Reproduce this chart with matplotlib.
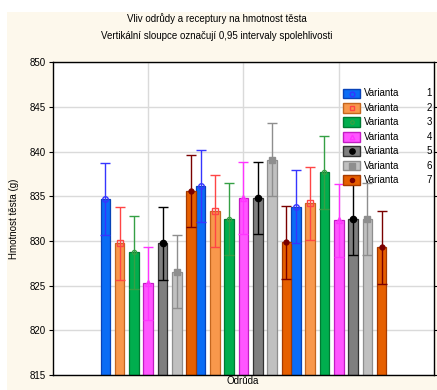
import matplotlib
matplotlib.use("Agg")
import matplotlib.pyplot as plt
from matplotlib.patches import Rectangle
from matplotlib.lines import Line2D
import numpy as np

plt.rcParams['font.family'] = ['Liberation Sans', 'DejaVu Sans']

# Odrůdy (categories on x) and recipe variants (series)
odrudy = [1, 2, 3]
varianty = ["1", "2", "3", "4", "5", "6", "7"]

# Mean dough weight (g) per variant, one value per odrůda
v1 = [834.7, 836.15, 833.85]
v2 = [829.75, 833.35, 834.2]
v3 = [828.75, 832.45, 837.7]
v4 = [825.25, 834.8, 832.3]
v5 = [829.75, 834.8, 832.45]
v6 = [826.55, 839.1, 832.45]
v7 = [835.6, 829.85, 829.3]
series = [v1, v2, v3, v4, v5, v6, v7]

# Half-width of the 0.95 confidence interval (pooled)
ci_half = [4.07, 4.07, 4.07]

y_ticks = [815, 820, 825, 830, 835, 840, 845, 850]

fills = ['#0A6CF5', '#F8984C', '#00AE4E', '#FF55FF', '#7F7F7F', '#C0C0C0', '#E65F00']
edges = ['#0843B8', '#C4661E', '#007A33', '#C21CC2', '#333333', '#8E8E8E', '#A53A00']
ecols = ['#3535FF', '#FF4545', '#35A045', '#FF35FF', '#000000', '#8E8E8E', '#7A0000']
markers = [('o', 4.0, 'none'), ('s', 4.0, 'none'), ('o', 3.0, 'none'), ('^', 4.0, 'none'),
           ('o', 4.5, 'fill'), ('s', 4.5, 'fill'), ('o', 3.5, 'fill')]

W, H = 437, 390
fig = plt.figure(figsize=(W / 100, H / 100), dpi=100)
fig.patch.set_facecolor('white')
fig.add_artist(Rectangle((7 / W, 0), (W - 7) / W, (H - 12) / H, transform=fig.transFigure,
                         facecolor='#FDF8EC', edgecolor='none', zorder=0))

ax_l, ax_r, ax_t, ax_b = 53, 434, 62.3, 375
ax = fig.add_axes([ax_l / W, (H - ax_b) / H, (ax_r - ax_l) / W, (ax_b - ax_t) / H])
ax.set_facecolor('white')

base = 815
width = 0.1
step = 0.15
cats = np.array(odrudy, dtype=float)
for i, vals in enumerate(series):
    x = cats - 0.5 + width / 2 + i * step
    vals = np.array(vals)
    ax.bar(x, vals - base, bottom=base, width=width, color=fills[i],
           edgecolor=edges[i], linewidth=0.9, zorder=2)
    ax.errorbar(x, vals, yerr=ci_half, fmt='none', ecolor=ecols[i], elinewidth=1.0,
                capsize=3.6, capthick=1.0, zorder=3)
    m, ms, style = markers[i]
    ax.plot(x, vals, linestyle='none', marker=m, markersize=ms,
            markerfacecolor=(ecols[i] if style == 'fill' else 'none'),
            markeredgecolor=ecols[i], markeredgewidth=1.0, zorder=4)

ax.set_xlim(0, 4)
ax.set_ylim(815, 850)
ax.set_yticks(y_ticks)
ax.set_xticks(odrudy)
ax.set_xticklabels([])
ax.tick_params(axis='x', length=0)
ax.tick_params(axis='y', direction='out', length=3, width=0.8, labelsize=7,
               right=True, labelright=False, pad=2)
ax.set_axisbelow(True)
ax.grid(True, color='#DADADA', linewidth=1.0, zorder=0)
for s in ax.spines.values():
    s.set_color('black')
    s.set_linewidth(1.0)

ax.set_ylabel('Hmotnost těsta (g)', fontsize=7, labelpad=8)
fig.text(243 / W, 1 - 381 / H, 'Odrůda', ha='center', va='center', fontsize=7)

fig.text(217 / W, 1 - 19 / H, 'Vliv odrůdy a receptury na hmotnost těsta',
         ha='center', va='center', fontsize=7)
fig.text(217 / W, 1 - 36 / H, 'Vertikální sloupce označují 0,95 intervaly spolehlivosti',
         ha='center', va='center', fontsize=7)

# Legend (no frame), drawn in figure pixels
row0, row_h = 93.5, 14.4
for i, lab in enumerate(varianty):
    yc = row0 + i * row_h
    fig.add_artist(Rectangle((343 / W, 1 - (yc + 4.8) / H), 17 / W, 9.6 / H,
                             transform=fig.transFigure, facecolor=fills[i],
                             edgecolor=edges[i], linewidth=1.0, zorder=5))
    m, ms, style = markers[i]
    fig.add_artist(Line2D([351.5 / W], [1 - yc / H], transform=fig.transFigure,
                          marker=m, markersize=ms * 0.85, linestyle='none',
                          markerfacecolor=(ecols[i] if style == 'fill' else 'none'),
                          markeredgecolor=ecols[i], markeredgewidth=1.0, zorder=6))
    fig.text(364 / W, 1 - yc / H, 'Varianta', ha='left', va='center', fontsize=7, zorder=6)
    fig.text(432 / W, 1 - yc / H, lab, ha='right', va='center', fontsize=7, zorder=6)

fig.savefig('out.png', dpi=100, facecolor=fig.get_facecolor())
